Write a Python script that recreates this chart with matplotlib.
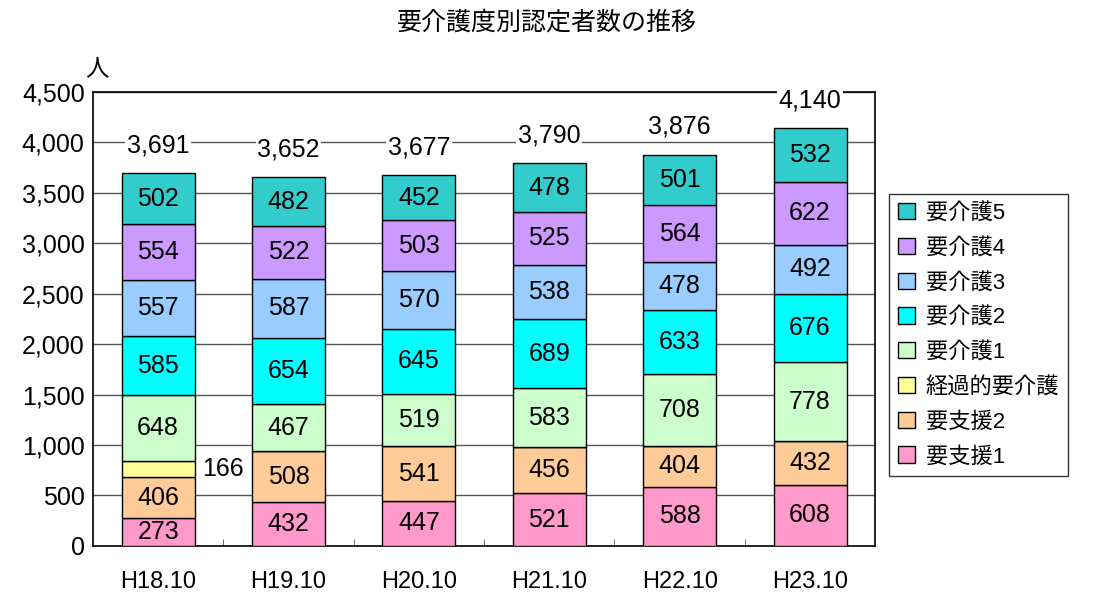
import matplotlib
matplotlib.use("Agg")
import matplotlib.pyplot as plt
import numpy as np

plt.rcParams["font.family"] = ["Liberation Sans", "Noto Sans CJK JP", "DejaVu Sans"]

years = ["H18.10", "H19.10", "H20.10", "H21.10", "H22.10", "H23.10"]
series = ["要支援1", "要支援2", "経過的要介護", "要介護1", "要介護2",
          "要介護3", "要介護4", "要介護5"]
shien1 = [273, 432, 447, 521, 588, 608]
shien2 = [406, 508, 541, 456, 404, 432]
keika = [166, 0, 0, 0, 0, 0]
kaigo1 = [648, 467, 519, 583, 708, 778]
kaigo2 = [585, 654, 645, 689, 633, 676]
kaigo3 = [557, 587, 570, 538, 478, 492]
kaigo4 = [554, 522, 503, 525, 564, 622]
kaigo5 = [502, 482, 452, 478, 501, 532]
totals = [3691, 3652, 3677, 3790, 3876, 4140]
colors = ["#FF99CC", "#FFCC99", "#FFFF99", "#CCFFCC", "#00FFFF",
          "#99CCFF", "#CC99FF", "#33CCCC"]

data = [shien1, shien2, keika, kaigo1, kaigo2, kaigo3, kaigo4, kaigo5]

fig = plt.figure(figsize=(10.94, 5.96), dpi=100)
ax = fig.add_axes([0.085, 0.084, 0.715, 0.762])

x = np.arange(len(years))
bottom = np.zeros(len(years))
handles = []
for name, vals, col in zip(series, data, colors):
    vals = np.array(vals, dtype=float)
    bars = ax.bar(x, vals, 0.56, bottom=bottom, color=col,
                  edgecolor="black", linewidth=1.0, label=name, zorder=3)
    handles.append(bars)
    for xi, v, b in zip(x, vals, bottom):
        if v <= 0:
            continue
        if name == "経過的要介護":
            # small segment: label sits beside the bar
            ax.text(xi + 0.5, b + v / 2, f"{int(v)}", ha="center",
                    va="center", fontsize=18, zorder=5,
                    bbox=dict(facecolor="white", edgecolor="none", pad=1))
        else:
            ax.text(xi, b + v / 2, f"{int(v)}", ha="center", va="center",
                    fontsize=18, zorder=5)
    bottom += vals

for xi, t in zip(x, totals):
    ax.annotate(f"{t:,}", (xi, t), xytext=(0, 20), textcoords="offset points",
                ha="center", va="center", fontsize=18, zorder=5,
                bbox=dict(facecolor="white", edgecolor="none", pad=1))

ax.set_xlim(-0.5, len(years) - 0.5)
ax.set_ylim(0, 4500)
ax.set_yticks(np.arange(0, 4501, 500))
ax.set_yticklabels([f"{v:,}" for v in range(0, 4501, 500)], fontsize=18)
ax.set_xticks(x)
ax.set_xticklabels(years, fontsize=17)
ax.tick_params(axis="x", length=0, pad=18)
ax.tick_params(axis="y", length=0, pad=6)
ax.set_xticks(np.arange(0.5, len(years) - 0.5, 1), minor=True)
ax.tick_params(axis="x", which="minor", direction="in", length=5, color="#555555")
ax.yaxis.grid(True, color="#555555", linewidth=1.0, zorder=0)
ax.set_axisbelow(True)
for sp in ax.spines.values():
    sp.set_linewidth(1.2)

ax.text(-0.01, 1.025, "人", transform=ax.transAxes, fontsize=17, ha="left",
        va="bottom")
fig.text(0.5, 0.963, "要介護度別認定者数の推移", fontsize=18, ha="center",
         va="center")

leg = ax.legend(handles[::-1], series[::-1], loc="upper left",
                bbox_to_anchor=(1.018, 0.775), fontsize=16, frameon=True,
                fancybox=False, edgecolor="black", handlelength=0.75,
                handleheight=0.75, handletextpad=0.5, labelspacing=0.62,
                borderpad=0.4, borderaxespad=0)
leg.get_frame().set_linewidth(1.0)

fig.savefig("out.png", dpi=100)
